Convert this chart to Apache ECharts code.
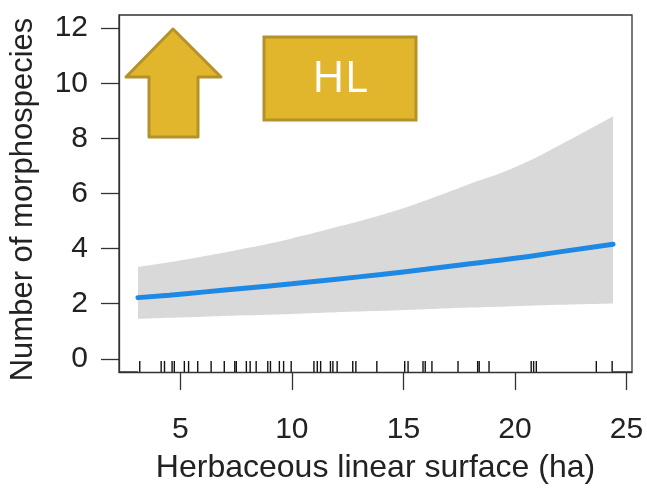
<!DOCTYPE html>
<html>
<head>
<meta charset="utf-8">
<script src="https://cdn.jsdelivr.net/npm/echarts@6/dist/echarts.min.js"></script>
<style>
  html, body { margin: 0; padding: 0; background: #ffffff; }
  #chart { width: 647px; height: 489px; }
</style>
</head>
<body>
<div id="chart"></div>
<script>
// Fitted curve: herbaceous linear surface (ha) vs number of morphospecies
const fitX     = [3.1, 4.5, 6, 8, 10, 12, 14, 16, 18, 20, 22, 24.4];
const fitMean  = [2.22, 2.31, 2.42, 2.57, 2.72, 2.89, 3.06, 3.25, 3.45, 3.65, 3.88, 4.16];
const fitUpper = [3.33, 3.50, 3.71, 4.02, 4.37, 4.78, 5.22, 5.75, 6.35, 6.95, 7.75, 8.80];
const fitLower = [1.45, 1.49, 1.53, 1.58, 1.63, 1.69, 1.74, 1.80, 1.86, 1.91, 1.96, 2.01];

// Observed sites (rug along the x axis)
const rugX = [3.18, 4.14, 4.29, 4.63, 4.73, 5.18, 5.37, 5.78, 6.38, 6.97, 7.44, 7.51,
              7.96, 8.13, 8.40, 8.92, 9.04, 9.44, 9.63, 9.97, 10.99, 11.14, 11.29,
              11.73, 11.84, 12.03, 12.73, 12.87, 13.81, 15.06, 15.21, 15.88, 15.98,
              16.28, 17.45, 18.33, 18.40, 18.84, 20.73, 20.84, 20.96, 23.65, 24.36];

const xTicks = [5, 10, 15, 20, 25];
const yTicks = [0, 2, 4, 6, 8, 10, 12];

const X_MIN = 2.25, X_MAX = 25.25;
const Y_MIN = -0.48, Y_MAX = 12.48;

const FONT = 'Liberation Sans, Arial, sans-serif';
const INK = '#222222';
const FRAME = '#333333';
const BAND = '#D9D9D9';
const GOLD = '#E1B62C';
const GOLD_EDGE = '#B5912A';

const chart = echarts.init(document.getElementById('chart'), null, { renderer: 'canvas' });

chart.setOption({
  animation: false,
  backgroundColor: '#ffffff',
  grid: {
    left: 115, right: 15, top: 15, bottom: 117,
    show: true, borderColor: FRAME, borderWidth: 1.3, backgroundColor: 'transparent'
  },
  xAxis: {
    type: 'value', min: X_MIN, max: X_MAX, z: 10,
    splitLine: { show: false },
    axisLine: { show: true, onZero: false, lineStyle: { color: FRAME, width: 1.3 } },
    axisTick: { show: true, length: 18, customValues: xTicks, lineStyle: { color: FRAME, width: 1.3 } },
    axisLabel: { customValues: xTicks, fontSize: 30, color: INK, fontFamily: FONT, margin: 43 },
    name: 'Herbaceous linear surface (ha)',
    nameLocation: 'middle', nameGap: 80,
    nameTextStyle: { fontSize: 32, color: INK, fontFamily: FONT }
  },
  yAxis: {
    type: 'value', min: Y_MIN, max: Y_MAX, z: 10,
    splitLine: { show: false },
    axisLine: { show: true, onZero: false, lineStyle: { color: FRAME, width: 1.3 } },
    axisTick: { show: true, length: 18, customValues: yTicks, lineStyle: { color: FRAME, width: 1.3 } },
    axisLabel: { customValues: yTicks, fontSize: 30, color: INK, fontFamily: FONT, margin: 31 },
    name: 'Number of morphospecies',
    nameLocation: 'middle', nameGap: 80, nameRotate: 90,
    nameTextStyle: { fontSize: 31, color: INK, fontFamily: FONT, padding: [0, 12, 0, 0] }
  },
  series: [
    {
      // upper edge of the confidence band, filled down to the axis
      type: 'line',
      z: 1,
      silent: true,
      smooth: true,
      showSymbol: false,
      data: fitX.map((x, i) => [x, fitUpper[i]]),
      lineStyle: { width: 0, opacity: 0 },
      areaStyle: { color: BAND, opacity: 1, origin: 'start' }
    },
    {
      // lower edge of the band: clears the area beneath it
      type: 'line',
      z: 2,
      silent: true,
      smooth: true,
      showSymbol: false,
      data: fitX.map((x, i) => [x, fitLower[i]]),
      lineStyle: { width: 0, opacity: 0 },
      areaStyle: { color: '#ffffff', opacity: 1, origin: 'start' }
    },
    {
      // rug of observed values
      type: 'custom',
      silent: true,
      z: 3,
      data: rugX.map(x => [x, Y_MIN]),
      renderItem: function (params, api) {
        const p = api.coord([api.value(0), Y_MIN]);
        return {
          type: 'line',
          shape: { x1: p[0], y1: p[1], x2: p[0], y2: p[1] - 11 },
          style: { stroke: '#111111', lineWidth: 1.4 }
        };
      }
    },
    {
      // fitted mean
      type: 'line',
      z: 4,
      data: fitX.map((x, i) => [x, fitMean[i]]),
      smooth: true,
      showSymbol: false,
      lineStyle: { color: '#1E88E5', width: 5, cap: 'round' }
    }
  ],
  graphic: [
    {
      type: 'polygon', z: 10,
      shape: { points: [[173, 29], [221, 77], [198, 77], [198, 137], [149, 137], [149, 77], [126, 77]] },
      style: { fill: GOLD, stroke: GOLD_EDGE, lineWidth: 3, lineJoin: 'round' }
    },
    {
      type: 'rect', z: 10,
      shape: { x: 264, y: 37, width: 152, height: 83 },
      style: { fill: GOLD, stroke: GOLD_EDGE, lineWidth: 3 }
    },
    {
      type: 'text', z: 11,
      x: 340, y: 79,
      style: { text: 'HL', fill: '#ffffff', font: '44px "Open Sans", sans-serif', align: 'center', verticalAlign: 'middle' }
    }
  ]
});
</script>
</body>
</html>
